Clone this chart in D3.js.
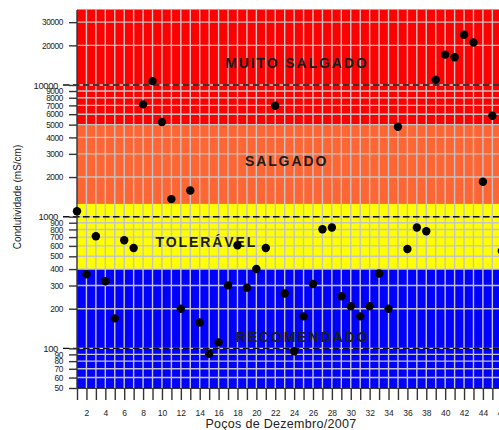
<!DOCTYPE html>
<html><head><meta charset="utf-8">
<script src="https://cdn.jsdelivr.net/npm/d3@7/dist/d3.min.js"></script>
<style>
html,body{margin:0;padding:0;background:#fff;overflow:hidden}
svg{display:block;font-family:"Liberation Sans",Arial,sans-serif}
</style></head><body>
<svg id="c" width="499" height="430"></svg>
<script>
// ---- data ----
const wells = [1,2,3,4,5,6,7,8,9,10,11,12,13,14,15,16,17,18,19,20,21,22,23,24,25,26,27,28,29,30,31,32,33,34,35,36,37,38,39,40,41,42,43,44,45,46];
const conductivity = [1100,365,710,323,169,663,579,7130,10700,5230,1360,200,1580,157,91,111,301,607,289,401,579,6960,261,95,175,308,803,828,249,209,175,209,370,200,4820,569,828,776,10970,17000,16250,24100,21000,1840,5840,550];
const bandNames = ["RECOMENDADO","TOLERÁVEL","SALGADO","MUITO SALGADO"];
const bandLimits = [50,400,1250,5000,37460];
const bandColors = ["#0000ff","#ffff00","#ff6633","#ff0000"];
const bandLabelAnchor = [[24.9,121],[14.7,646],[23.2,2660],[24.3,14700]];
const yTicks = [50,60,70,80,90,100,200,300,400,500,600,700,800,900,1000,2000,3000,4000,5000,6000,7000,8000,9000,10000,20000,30000];
const limitLines = [100,1000,10000];
const xTicks = d3.range(1,48);
const yTitle = "Condutividade (mS/cm)";
const xTitle = "Poços de Dezembro/2007";

// ---- layout ----
const svg = d3.select("#c");
const mLeft = 77, mBottom = 388, mTop = 10, mRight = 520;
const x = d3.scaleLinear().domain([1,46]).range([mLeft, mLeft + 45*9.44]);
const y = d3.scaleLog().domain([50,10000]).range([mBottom, 85]);

// bands
const bands = bandColors.map((c,i)=>({c, lo:bandLimits[i], hi:bandLimits[i+1]}));
svg.append("g").selectAll("rect").data(bands).join("rect")
  .attr("x", mLeft).attr("width", mRight-mLeft)
  .attr("y", d=>y(d.hi)).attr("height", d=>y(d.lo)-y(d.hi))
  .attr("fill", d=>d.c);

// grid
const grid = svg.append("g").attr("stroke","#c4c4c4").attr("stroke-width",1.4);
grid.selectAll("line.v").data(xTicks.filter(d=>d>1)).join("line")
  .attr("x1", d=>x(d)).attr("x2", d=>x(d)).attr("y1", y(bandLimits[4])).attr("y2", mBottom);
grid.selectAll("line.h").data(yTicks.filter(d=>d>50)).join("line")
  .attr("x1", mLeft).attr("x2", mRight).attr("y1", d=>y(d)).attr("y2", d=>y(d));

// band labels
svg.append("g").selectAll("text").data(bandNames).join("text")
  .attr("x", (d,i)=>x(bandLabelAnchor[i][0])).attr("y", (d,i)=>y(bandLabelAnchor[i][1]))
  .attr("text-anchor","middle").attr("dominant-baseline","central")
  .attr("font-size",14).attr("font-weight","bold").attr("letter-spacing",1.9)
  .attr("fill","#1c1c1c").text(d=>d);

// dashed limit lines
svg.append("g").selectAll("line").data(limitLines).join("line")
  .attr("x1", 63).attr("x2", mRight).attr("y1", d=>y(d)).attr("y2", d=>y(d))
  .attr("stroke","#111").attr("stroke-width",1.4).attr("stroke-dasharray","6.5,3.5");

// axes
const yAxis = svg.append("g").attr("transform",`translate(${mLeft},0)`)
  .call(d3.axisLeft(y).tickValues(yTicks).tickSize(8).tickPadding(6).tickSizeOuter(0).tickFormat(d3.format("d")));
yAxis.select(".domain").remove();
yAxis.selectAll("line").attr("stroke","#333").attr("stroke-width",1.4);
yAxis.selectAll("text").attr("font-size",8.3).attr("fill","#222").attr("letter-spacing",-0.4)
  .attr("font-family","'Liberation Sans',Arial,sans-serif");
yAxis.selectAll(".tick").filter(d=>limitLines.includes(d))
  .select("text").attr("x",-19).attr("font-size",9.5);
svg.append("line").attr("x1",mLeft).attr("x2",mLeft).attr("y1",mTop).attr("y2",mBottom)
  .attr("stroke","#333").attr("stroke-width",1.4);

const xAxis = svg.append("g").attr("transform",`translate(0,${mBottom})`)
  .call(d3.axisBottom(x).tickValues(xTicks).tickSize(12).tickPadding(10).tickSizeOuter(0)
    .tickFormat(d=> d%2===0 ? d : ""));
xAxis.select(".domain").attr("stroke","#333").attr("stroke-width",1.2);
xAxis.selectAll("line").attr("stroke","#333").attr("stroke-width",1.4);
xAxis.selectAll("text").attr("font-size",8.5).attr("fill","#222")
  .attr("font-family","'Liberation Sans',Arial,sans-serif");

// titles
svg.append("text").attr("transform","translate(21,197) rotate(-90)")
  .attr("text-anchor","middle").attr("font-size",10).attr("fill","#222").text(yTitle);
svg.append("text").attr("x",281).attr("y",428).attr("text-anchor","middle")
  .attr("font-size",12.5).attr("fill","#222").attr("letter-spacing",0.3).text(xTitle);

// points
svg.append("g").selectAll("circle").data(wells).join("circle")
  .attr("cx", (d,i)=>x(d)).attr("cy", (d,i)=>y(conductivity[i])).attr("r",4.2)
  .attr("fill","#000");
</script>
</body></html>
